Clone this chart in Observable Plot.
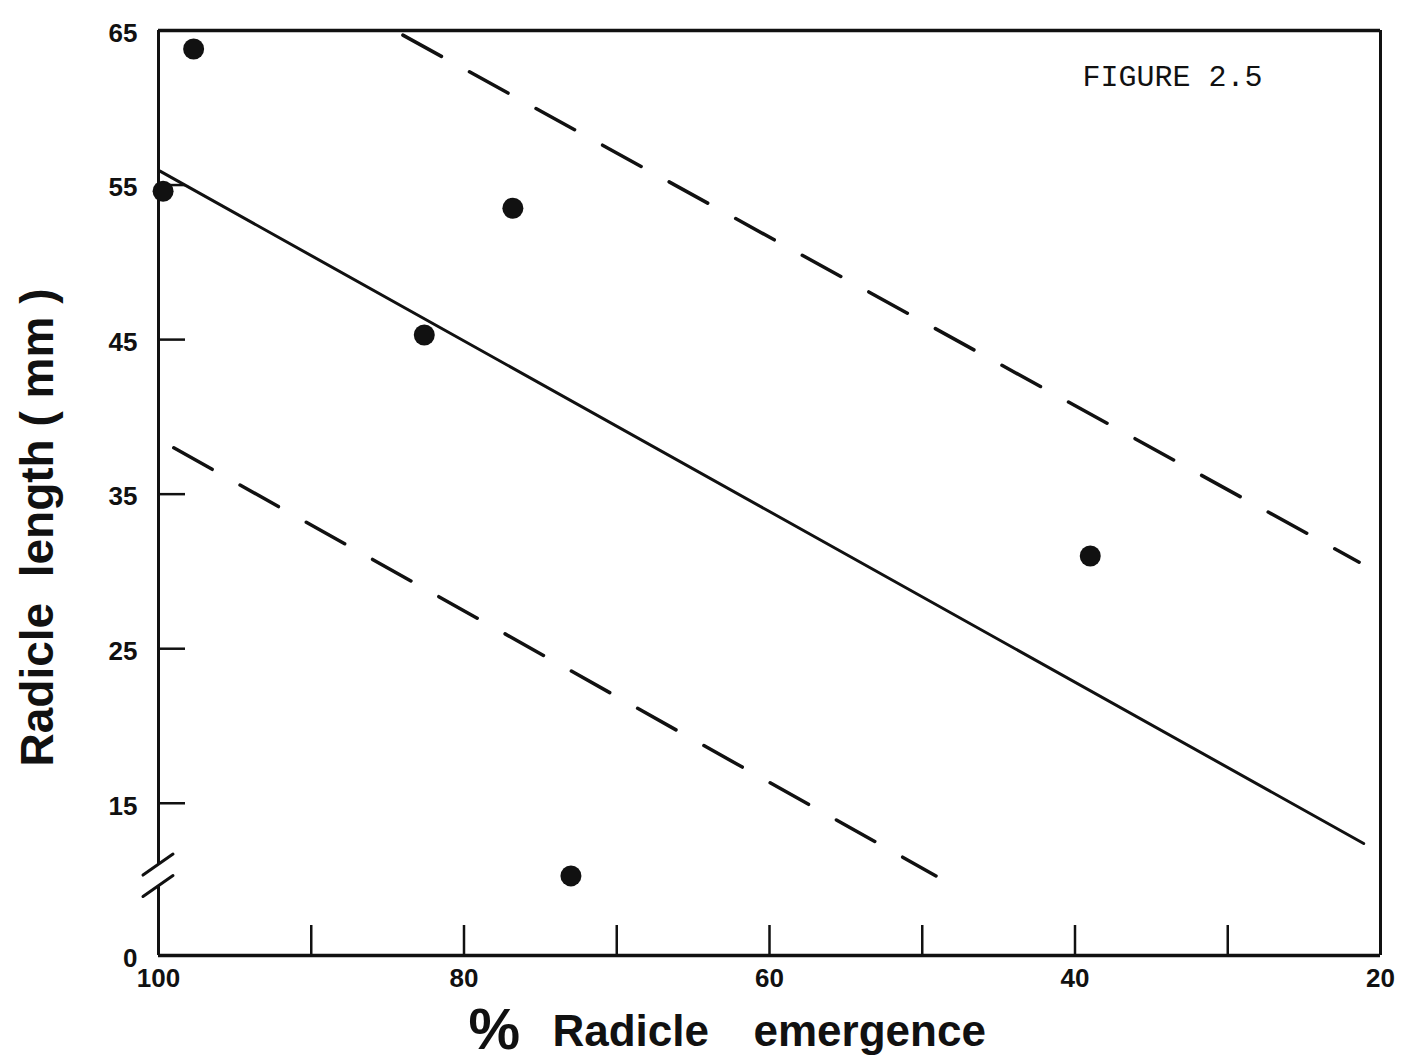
<!DOCTYPE html>
<html>
<head>
<meta charset="utf-8">
<script src="https://cdn.jsdelivr.net/npm/d3@7"></script>
<script src="https://cdn.jsdelivr.net/npm/@observablehq/plot@0.6"></script>
<style>
  html, body { margin: 0; padding: 0; background: #fff; }
</style>
</head>
<body>
<div id="chart"></div>
<script>
// ---- data ----
const emergence     = [97.7, 99.7, 76.8, 82.6, 39.0, 73.0];   // % radicle emergence
const radicleLength = [63.8, 54.6, 53.5, 45.3, 31.0, 10.3];   // radicle length (mm)

const fitX   = [99.9, 21.1];  const fitY   = [55.9, 12.4];    // regression line
const upperX = [84.0, 21.4];  const upperY = [64.7, 30.6];    // upper confidence limit
const lowerX = [99.0, 49.1];  const lowerY = [38.0, 10.3];    // lower confidence limit

const xTickLabels = [100, 80, 60, 40, 20];
const xTickMarks  = [90, 80, 70, 60, 50, 40, 30];
const yTickLabels = [0, 15, 25, 35, 45, 55, 65];
const yTickMarks  = [15, 25, 35, 45, 55];
const yBreak      = [9.2, 11.0];

const figureLabel = "FIGURE 2.5";
const xTitleParts = ["%", "Radicle", "emergence"];
const yTitle      = "Radicle\u00A0\u00A0length\u00A0(\u00A0mm\u00A0)";

// broken y axis: values below 10 are drawn compressed
const breakAt = 10, compress = 0.485;
const cy = v => v >= breakAt ? v : breakAt - (breakAt - v) * compress;

// ---- build tables ----
const points = emergence.map((x, i) => ({x, y: cy(radicleLength[i])}));
const fit    = fitX.map((x, i) => ({x, y: cy(fitY[i])}));
const upper  = upperX.map((x, i) => ({x, y: cy(upperY[i])}));
const lower  = lowerX.map((x, i) => ({x, y: cy(lowerY[i])}));

const W = 1416, H = 1061, mL = 158, mR = 36, mT = 30, mB = 106;
const ink = "#111";
const sans = "'Liberation Sans', Arial, Helvetica, sans-serif";

const plot = Plot.plot({
  width: W, height: H,
  marginLeft: mL, marginRight: mR, marginTop: mT, marginBottom: mB,
  x: {domain: [100, 20], axis: null},
  y: {domain: [cy(0), 65], axis: null},
  style: {background: "#fff", color: ink, fontFamily: sans, overflow: "visible"},
  marks: [
    // frame
    Plot.ruleY([65], {stroke: ink, strokeWidth: 3.5}),
    Plot.ruleX([20], {stroke: ink, strokeWidth: 3}),
    Plot.ruleY([cy(0)], {stroke: ink, strokeWidth: 3.5}),
    Plot.ruleX([100], {y1: 65, y2: cy(yBreak[1]), stroke: ink, strokeWidth: 3}),
    Plot.ruleX([100], {y1: cy(yBreak[0]), y2: cy(0), stroke: ink, strokeWidth: 3}),
    // inward ticks
    Plot.tickY(yTickMarks, {y: d => cy(d), insetRight: (W - mL - mR) - 27, stroke: ink, strokeWidth: 2.5}),
    Plot.tickX(xTickMarks, {x: d => d, insetTop: (H - mT - mB) - 30, stroke: ink, strokeWidth: 2.5}),
    // lines
    Plot.line(fit,   {x: "x", y: "y", stroke: ink, strokeWidth: 3}),
    Plot.line(upper, {x: "x", y: "y", stroke: ink, strokeWidth: 3.5, strokeDasharray: "44,32", strokeLinecap: "round"}),
    Plot.line(lower, {x: "x", y: "y", stroke: ink, strokeWidth: 3.5, strokeDasharray: "44,32", strokeLinecap: "round"}),
    // points
    Plot.dot(points, {x: "x", y: "y", r: 10.5, fill: ink, stroke: "none"}),
    // tick labels
    Plot.text(yTickLabels, {x: 100, y: d => cy(d), text: d => String(d), textAnchor: "end", lineAnchor: "middle",
      dx: -21, dy: 3, fontSize: 26, fontWeight: "bold", fill: ink}),
    Plot.text(xTickLabels, {x: d => d, frameAnchor: "bottom", text: d => String(d), textAnchor: "middle", lineAnchor: "middle",
      dy: 23, fontSize: 26, fontWeight: "bold", fill: ink}),
    // axis titles
    Plot.text([yTitle], {frameAnchor: "left", text: d => d, rotate: -90, textAnchor: "middle", lineAnchor: "bottom",
      dx: -106, dy: 34.5, fontSize: 46, fontWeight: "bold", fill: ink}),
    Plot.text([xTitleParts[0]], {frameAnchor: "bottom-left", text: d => d, textAnchor: "start", lineAnchor: "bottom",
      dx: 310, dy: 93, fontSize: 58, fontWeight: "bold", fill: ink}),
    Plot.text([xTitleParts[1]], {frameAnchor: "bottom-left", text: d => d, textAnchor: "start", lineAnchor: "bottom",
      dx: 394, dy: 90, fontSize: 44, fontWeight: "bold", fill: ink}),
    Plot.text([xTitleParts[2]], {frameAnchor: "bottom-left", text: d => d, textAnchor: "start", lineAnchor: "bottom",
      dx: 595, dy: 90, fontSize: 44, fontWeight: "bold", fill: ink}),
    // figure label
    Plot.text([figureLabel], {frameAnchor: "top-left", text: d => d, textAnchor: "start", lineAnchor: "bottom",
      dx: 924, dy: 55, fontSize: 30, fontFamily: "'Liberation Mono', 'DejaVu Sans Mono', monospace", fill: ink})
  ]
});

// axis break slashes, positioned through the plot's scales
const xs = plot.scale("x"), ys = plot.scale("y");
const ax = xs.apply(100);
const g = d3.select(plot).append("g").attr("stroke", ink).attr("stroke-width", 3).attr("stroke-linecap", "round");
yBreak.forEach(v => {
  const py = ys.apply(cy(v));
  g.append("line").attr("x1", ax - 15).attr("y1", py + 10.5).attr("x2", ax + 15).attr("y2", py - 10.5);
});

document.getElementById("chart").appendChild(plot);
</script>
</body>
</html>
